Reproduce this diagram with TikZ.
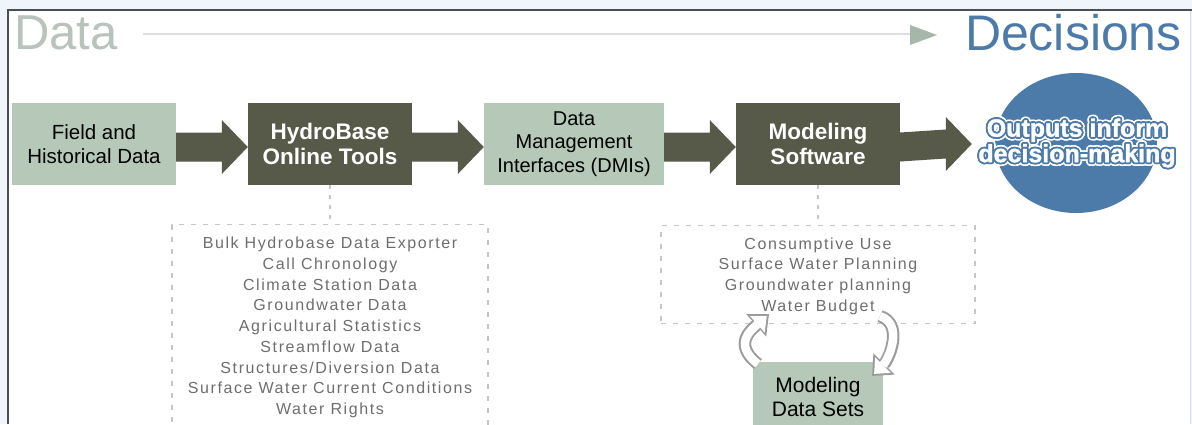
\documentclass[tikz,border=0pt]{standalone}
\usepackage{fontspec}
\setmainfont{Liberation Sans}
\newfontfamily\listfont[LetterSpace=10]{Liberation Sans}
\newfontfamily\heavyfont[FakeBold=1.4]{Liberation Sans Bold}
\usetikzlibrary{arrows.meta,shapes.geometric}
\definecolor{sage}{HTML}{B6C8B8}
\definecolor{olive}{HTML}{575A48}
\definecolor{steel}{HTML}{4D7BA9}
\definecolor{datagray}{HTML}{B8C3BC}
\definecolor{listgray}{HTML}{6E6E6E}
\definecolor{dashgray}{HTML}{C6C6C6}
\definecolor{pagebg}{HTML}{F0F5FB}
\definecolor{framegray}{HTML}{4A4E55}
\definecolor{edgegray}{HTML}{D8DCE2}
\definecolor{tri}{HTML}{A6B6A8}
\definecolor{topline}{HTML}{DEDEDE}
\definecolor{hollowgray}{HTML}{9C9C9C}
\tikzset{
  lightbox/.style={fill=sage, inner sep=0pt, align=center, text=black,
    font=\fontsize{20.5}{23.5}\selectfont},
  darkbox/.style={fill=olive, inner sep=0pt, align=center, text=white,
    minimum width=164pt, minimum height=82pt,
    font=\bfseries\fontsize{22.5}{25}\selectfont},
  listbox/.style={draw=dashgray, line width=1.1pt, dash pattern=on 5pt off 7pt, inner sep=0pt},
  listtext/.style={text=listgray, align=center, inner sep=0pt,
    font=\listfont\fontsize{16}{20.7}\selectfont},
  link/.style={draw=dashgray, line width=1.1pt, dash pattern=on 4pt off 6pt},
  outtext/.style={align=center, inner sep=0pt, font=\heavyfont\fontsize{25}{25.5}\selectfont},
  hollowout/.style={draw=hollowgray, line width=12.5pt,
    -{Triangle[length=17pt,width=30pt,line width=0pt]}},
  hollowin/.style={draw=white, line width=8.5pt, shorten >=3pt,
    -{Triangle[length=12.5pt,width=22pt,line width=0pt]}},
}
\newcommand{\blockarr}[2]{%
  \fill[olive] ([yshift=11.5pt]#1.east) -- ([xshift=-26pt,yshift=11.5pt]#2.west)
    -- ([xshift=-26pt,yshift=24pt]#2.west) -- ([yshift=-3pt]#2.west)
    -- ([xshift=-26pt,yshift=-30pt]#2.west) -- ([xshift=-26pt,yshift=-17.5pt]#2.west)
    -- ([yshift=-17.5pt]#1.east) -- cycle;}
\newcommand{\outlbl}{Outputs inform\\decision-making}
\begin{document}
\begin{tikzpicture}[x=1pt,y=-1pt]
\useasboundingbox (0,0) rectangle (1192,424);
\fill[pagebg] (0,0) rectangle (1192,424);
\fill[white] (8,10) rectangle (1190,424);
\draw[edgegray, line width=0.8pt] (1190.5,10) -- (1190.5,424);
\draw[framegray, line width=1.3pt] (8,424) -- (8,10) -- (1192,10);

% titles
\node[anchor=base west, inner sep=0pt, text=datagray, font=\fontsize{49}{49}\selectfont] (data) at (14,49) {Data};
\node[anchor=base east, inner sep=0pt, text=steel, font=\fontsize{50}{50}\selectfont] (dec) at (1182,50) {Decisions};
\coordinate (tl1) at (143,34);
\coordinate (tl2) at (910,34);
\draw[topline, line width=1.4pt] (tl1) -- (tl2);
\fill[tri] (910,25) -- (937,35) -- (910,45) -- cycle;

% main chain
\node[lightbox, minimum width=164pt, minimum height=82pt] (fh) at (94,144) {Field and\\Historical Data};
\node[darkbox] (hb) at (330,144) {HydroBase\\Online Tools};
\node[lightbox, minimum width=180pt, minimum height=82pt, font=\fontsize{20}{23.5}\selectfont] (dmi) at (574,144) {Data\\Management\\Interfaces (DMIs)};
\node[darkbox] (ms) at (818,144) {Modeling\\Software};
\node[ellipse, fill=steel, minimum width=162pt, minimum height=140pt, inner sep=0pt] (circ) at (1076,143) {};
\node[inner sep=0pt, minimum size=0pt] (otip) at (972,141) {};

\blockarr{fh}{hb}
\blockarr{hb}{dmi}
\blockarr{dmi}{ms}
\blockarr{ms}{otip}

% outlined text in the circle
\node[outtext, text=white] (out) at (1077,143) {\outlbl};
\foreach \a in {0,24,...,336}
  \node[outtext, text=white] (oh\a) at ([shift={(\a:3.6pt)}]out.center) {\outlbl};
\foreach \a in {0,24,...,336}
  \node[outtext, text=steel] (ob\a) at ([shift={(\a:1.8pt)}]out.center) {\outlbl};
\node[outtext, text=white] (outtop) at (out.center) {\outlbl};

% lists
\node[listbox, minimum width=316pt, minimum height=220pt, anchor=north] (lbox) at (330,224) {};
\node[listtext] (ltxt) at (330,327.5) {Bulk Hydrobase Data Exporter\\Call Chronology\\Climate Station Data\\Groundwater Data\\Agricultural Statistics\\Streamflow Data\\Structures/Diversion Data\\Surface Water Current Conditions\\Water Rights};
\draw[link] (hb.south) -- (lbox.north);

\node[listbox, minimum width=314pt, minimum height=98pt, anchor=north] (ubox) at (818,225) {};
\node[listtext] (utxt) at (818,276) {Consumptive Use\\Surface Water Planning\\Groundwater planning\\Water Budget};
\draw[link] (ms.south) -- (ubox.north);

% modeling data sets
\node[lightbox, minimum width=130pt, minimum height=70pt, anchor=north, font=\fontsize{21}{24}\selectfont] (mds) at (818,362) {Modeling\\Data Sets};

\coordinate (la1) at ([xshift=-60pt,yshift=-2pt]mds.north);
\coordinate (la2) at ([xshift=-49pt,yshift=10pt]ubox.south);
\coordinate (ra1) at ([xshift=62pt,yshift=8pt]ubox.south);
\coordinate (ra2) at ([xshift=54pt,yshift=-14pt]mds.north);
\draw[hollowout] (la1) .. controls ([shift={(-26pt,20pt)}]la1) and ([shift={(-17pt,-15pt)}]la2) .. (la2);
\draw[hollowin] (la1) .. controls ([shift={(-26pt,20pt)}]la1) and ([shift={(-17pt,-15pt)}]la2) .. (la2);
\draw[hollowout] (ra1) .. controls ([shift={(24pt,-8pt)}]ra1) and ([shift={(17pt,17pt)}]ra2) .. (ra2);
\draw[hollowin] (ra1) .. controls ([shift={(24pt,-8pt)}]ra1) and ([shift={(17pt,17pt)}]ra2) .. (ra2);
\end{tikzpicture}
\end{document}
